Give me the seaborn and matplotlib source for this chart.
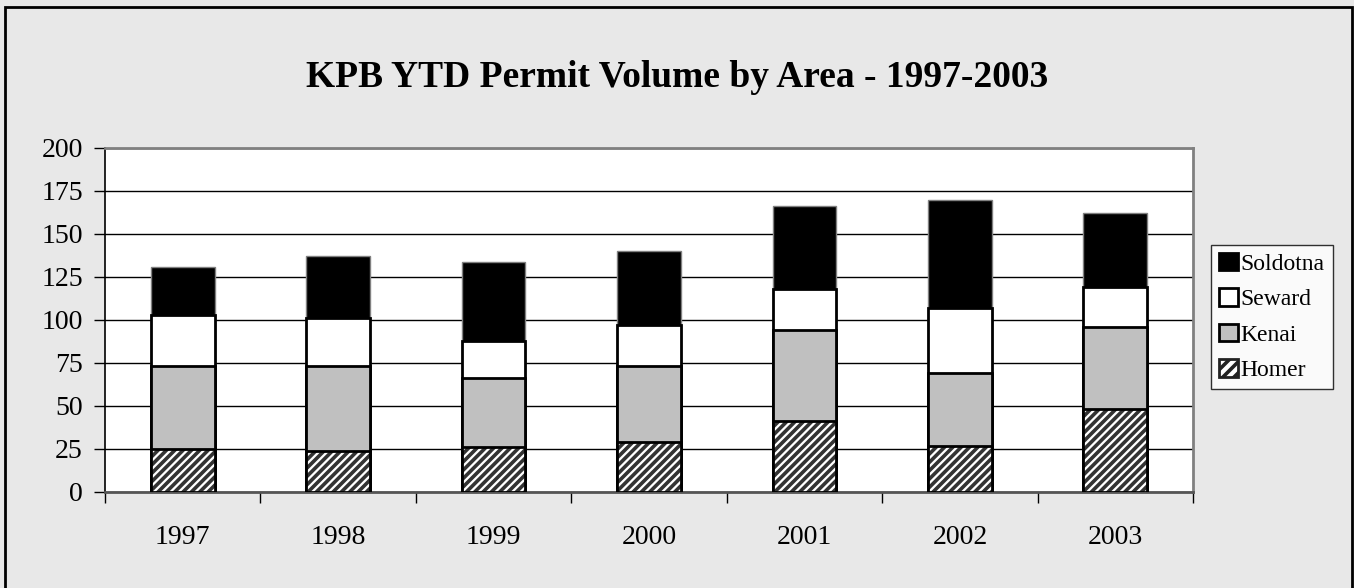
import numpy as np
import pandas as pd
import matplotlib
matplotlib.use('Agg')
import matplotlib.pyplot as plt
from matplotlib.patches import Rectangle
import seaborn as sns

years = ['1997', '1998', '1999', '2000', '2001', '2002', '2003']
homer = [25, 24, 26, 29, 41, 27, 48]
kenai = [48, 49, 40, 44, 53, 42, 48]
seward = [30, 28, 22, 24, 24, 38, 23]
soldotna = [28, 36, 46, 43, 48, 63, 43]

sns.set_style('white')
plt.rcParams['font.family'] = ['Liberation Serif', 'DejaVu Serif']
plt.rcParams['text.color'] = 'black'
plt.rcParams['xtick.color'] = 'black'
plt.rcParams['ytick.color'] = 'black'
plt.rcParams['hatch.linewidth'] = 2.6

bg = '#e8e8e8'
fig = plt.figure(figsize=(13.54, 5.88), dpi=100, facecolor=bg)
ax = fig.add_axes([0.0776, 0.1633, 0.8035, 0.585])
ax.set_facecolor('white')

# cumulative tops, drawn from the tallest down so each layer covers the next
df = pd.DataFrame({'Year': years, 'Homer': homer, 'Kenai': kenai,
                   'Seward': seward, 'Soldotna': soldotna})
df['c_homer'] = df['Homer']
df['c_kenai'] = df['c_homer'] + df['Kenai']
df['c_seward'] = df['c_kenai'] + df['Seward']
df['c_soldotna'] = df['c_seward'] + df['Soldotna']

w = 0.41
sns.barplot(data=df, x='Year', y='c_soldotna', color='black', width=w,
            edgecolor='#808080', linewidth=1, saturation=1, ax=ax, zorder=3)
sns.barplot(data=df, x='Year', y='c_seward', color='white', width=w,
            edgecolor='black', linewidth=2, saturation=1, ax=ax, zorder=3)
sns.barplot(data=df, x='Year', y='c_kenai', color='#c0c0c0', width=w,
            edgecolor='black', linewidth=2, saturation=1, ax=ax, zorder=3)
n_before = len(ax.patches)
sns.barplot(data=df, x='Year', y='c_homer', color='white', width=w,
            saturation=1, ax=ax, zorder=3)
# hatched Homer bars: dark stripes on white, then a black outline
for p in ax.patches[n_before:n_before + len(years)]:
    p.set_facecolor('white')
    p.set_edgecolor('#333333')
    p.set_linewidth(0)
    p.set_hatch('////')
    ax.add_patch(Rectangle(p.get_xy(), p.get_width(), p.get_height(),
                           fill=False, edgecolor='black', linewidth=2,
                           zorder=4))

ax.set_ylim(0, 200)
ax.set_xlim(-0.5, 6.5)
ax.set_yticks(np.arange(0, 201, 25))
ax.yaxis.grid(True, color='black', linewidth=1)
ax.set_axisbelow(True)
ax.set_xlabel('')
ax.set_ylabel('')

ax.set_xticks(np.arange(-0.5, 7, 1), minor=True)
ax.tick_params(which='both', bottom=True, left=True)
ax.tick_params(axis='x', which='major', length=0, labelsize=20, pad=24)
ax.tick_params(axis='x', which='minor', length=8, width=1, color='black',
               direction='out')
ax.tick_params(axis='y', length=8, width=1, color='black', direction='out',
               labelsize=20, pad=8)

for s in ax.spines.values():
    s.set_visible(True)
    s.set_color('#808080')
    s.set_linewidth(2)
ax.spines['left'].set_color('black')
ax.spines['left'].set_linewidth(1.2)
ax.spines['bottom'].set_color('#555555')

fig.text(0.5, 0.868, 'KPB YTD Permit Volume by Area - 1997-2003',
         ha='center', va='center', fontsize=27, fontweight='bold')

handles = [
    Rectangle((0, 0), 1, 1, facecolor='black', edgecolor='black', lw=2),
    Rectangle((0, 0), 1, 1, facecolor='white', edgecolor='black', lw=2),
    Rectangle((0, 0), 1, 1, facecolor='#c0c0c0', edgecolor='black', lw=2),
    Rectangle((0, 0), 1, 1, facecolor='white', edgecolor='#222222', lw=2,
              hatch='///'),
]
leg = fig.legend(handles, ['Soldotna', 'Seward', 'Kenai', 'Homer'],
                 loc='center left', bbox_to_anchor=(0.8944, 0.461),
                 fontsize=17, frameon=True, fancybox=False, handlelength=0.8,
                 handleheight=0.76, handletextpad=0.1, labelspacing=0.57,
                 borderpad=0.35, borderaxespad=0)
leg.get_frame().set_edgecolor('black')
leg.get_frame().set_linewidth(1)
leg.get_frame().set_facecolor('white')

fig.add_artist(Rectangle((5 / 1354, -0.02), 1347 / 1354, 1 - 7 / 588 + 0.02,
                         transform=fig.transFigure, fill=False,
                         edgecolor='black', linewidth=2))

fig.savefig('out.png', dpi=100, facecolor=bg)
